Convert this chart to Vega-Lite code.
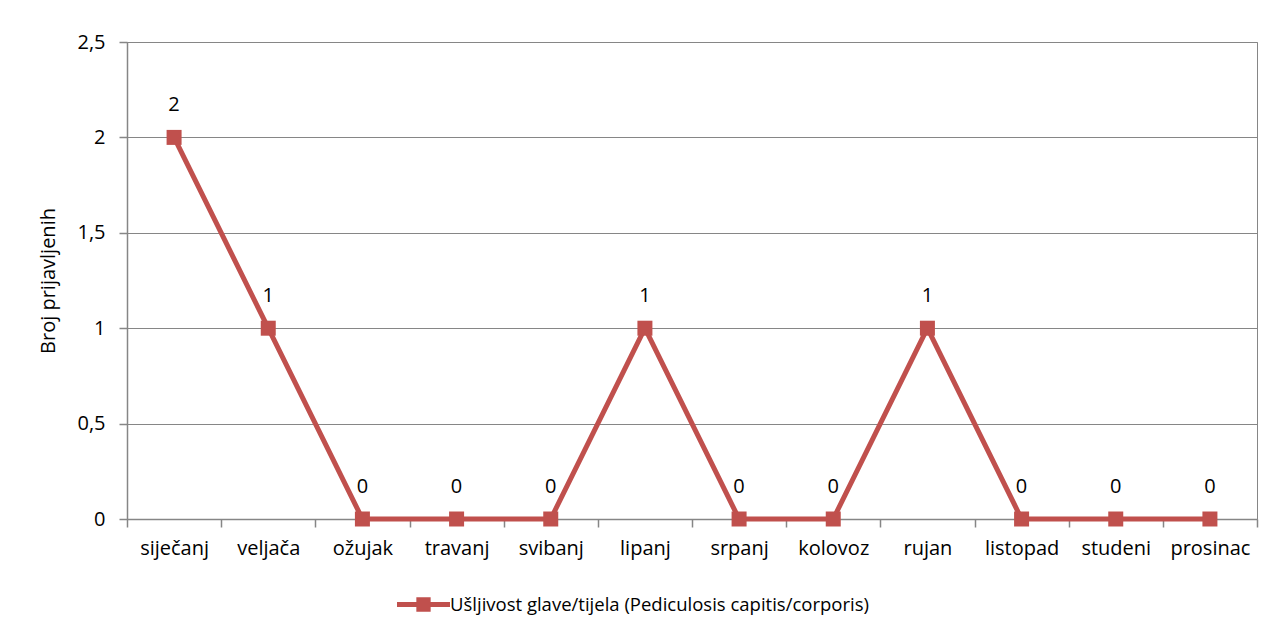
{
  "$schema": "https://vega.github.io/schema/vega-lite/v6.json",
  "autosize": "none",
  "width": 1130,
  "height": 477,
  "padding": {"left": 127, "top": 42, "right": 28, "bottom": 118},
  "background": "white",
  "config": {
    "font": "Open Sans",
    "view": {"stroke": "#868686", "strokeWidth": 1},
    "axis": {"labelFont": "Open Sans", "titleFont": "Open Sans", "labelColor": "#000000", "titleColor": "#000000", "labelFontSize": 20, "titleFontSize": 20, "titleFontWeight": "normal", "domainColor": "#868686", "tickColor": "#868686", "gridColor": "#868686", "domainWidth": 1.5, "tickWidth": 1.5, "gridWidth": 1.2}
  },
  "data": {
    "values": [
      {"mjesec": "siječanj", "broj": 2, "serija": "Ušljivost glave/tijela (Pediculosis capitis/corporis)"},
      {"mjesec": "veljača", "broj": 1, "serija": "Ušljivost glave/tijela (Pediculosis capitis/corporis)"},
      {"mjesec": "ožujak", "broj": 0, "serija": "Ušljivost glave/tijela (Pediculosis capitis/corporis)"},
      {"mjesec": "travanj", "broj": 0, "serija": "Ušljivost glave/tijela (Pediculosis capitis/corporis)"},
      {"mjesec": "svibanj", "broj": 0, "serija": "Ušljivost glave/tijela (Pediculosis capitis/corporis)"},
      {"mjesec": "lipanj", "broj": 1, "serija": "Ušljivost glave/tijela (Pediculosis capitis/corporis)"},
      {"mjesec": "srpanj", "broj": 0, "serija": "Ušljivost glave/tijela (Pediculosis capitis/corporis)"},
      {"mjesec": "kolovoz", "broj": 0, "serija": "Ušljivost glave/tijela (Pediculosis capitis/corporis)"},
      {"mjesec": "rujan", "broj": 1, "serija": "Ušljivost glave/tijela (Pediculosis capitis/corporis)"},
      {"mjesec": "listopad", "broj": 0, "serija": "Ušljivost glave/tijela (Pediculosis capitis/corporis)"},
      {"mjesec": "studeni", "broj": 0, "serija": "Ušljivost glave/tijela (Pediculosis capitis/corporis)"},
      {"mjesec": "prosinac", "broj": 0, "serija": "Ušljivost glave/tijela (Pediculosis capitis/corporis)"}
    ]
  },
  "encoding": {
    "x": {
      "field": "mjesec",
      "type": "nominal",
      "sort": null,
      "scale": {"paddingInner": 0, "paddingOuter": 0},
      "axis": {"title": null, "labelAngle": 0, "tickBand": "extent", "tickSize": 8, "labelPadding": 11, "grid": false, "domain": true}
    },
    "y": {
      "field": "broj",
      "type": "quantitative",
      "scale": {"domain": [0, 2.5], "nice": false, "zero": true},
      "axis": {"title": "Broj prijavljenih", "values": [0, 0.5, 1, 1.5, 2, 2.5], "labelExpr": "replace(format(datum.value, '~g'), '.', ',')", "tickSize": 8, "labelPadding": 14, "titlePadding": 18, "grid": true}
    }
  },
  "layer": [
    {
      "mark": {"type": "line", "strokeWidth": 5, "color": "#C0504D", "point": {"shape": "square", "size": 225, "filled": true, "color": "#C0504D", "opacity": 1}},
      "encoding": {
        "color": {
          "field": "serija",
          "type": "nominal",
          "scale": {"range": ["#C0504D"]},
          "legend": {
            "title": null,
            "orient": "none",
            "legendX": 270,
            "legendY": 536,
            "labelFont": "Open Sans",
            "labelFontSize": 18.5,
            "labelColor": "#000000",
            "labelOffset": 0,
            "symbolType": "M-1,-0.09L1,-0.09L1,0.09L-1,0.09Z M-0.27,-0.27L0.27,-0.27L0.27,0.27L-0.27,0.27Z",
            "symbolSize": 2809,
            "symbolFillColor": "#C0504D",
            "symbolStrokeColor": "#C0504D",
            "symbolStrokeWidth": 0,
            "symbolOpacity": 1,
            "labelLimit": 700
          }
        }
      }
    },
    {
      "mark": {"type": "text", "dy": -32, "baseline": "middle", "align": "center", "fontSize": 20, "font": "Open Sans", "color": "#000000"},
      "encoding": {"text": {"field": "broj", "type": "quantitative"}}
    }
  ]
}
